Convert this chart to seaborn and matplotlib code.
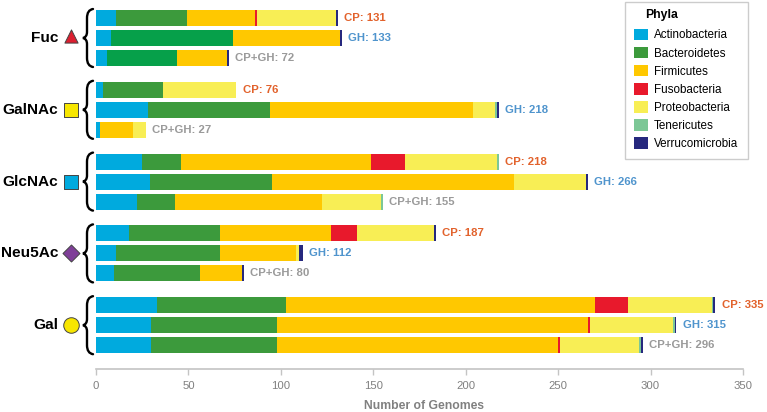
# Stacked bars of genome counts per phylum for each sugar
import numpy as np
import pandas as pd
import matplotlib
matplotlib.use('Agg')
import matplotlib.pyplot as plt
from matplotlib.patches import Patch, PathPatch
from matplotlib.path import Path
import seaborn as sns

sugars = ['Fuc', 'GalNAc', 'GlcNAc', 'Neu5Ac', 'Gal']
pathways = ['CP', 'GH', 'CP+GH']
phyla = ['Actinobacteria', 'Bacteroidetes', 'Firmicutes', 'Fusobacteria',
         'Proteobacteria', 'Tenericutes', 'Verrucomicrobia']
colors = ['#00AADE', '#3C9A3C', '#FFC800', '#E8192C', '#F8EE55', '#7CC796', '#26287E']

actino = [11, 8, 6, 4, 28, 2, 25, 29, 22, 18, 11, 10, 33, 30, 30]
bactero = [38, 66, 38, 32, 66, 0, 21, 66, 21, 49, 56, 46, 70, 68, 68]
firmi = [37, 58, 27, 0, 110, 18, 103, 131, 79, 60, 41, 23, 167, 168, 152]
fuso = [1, 0, 0, 0, 0, 0, 18, 0, 0, 14, 0, 0, 18, 1, 1]
proteo = [43, 0, 0, 40, 12, 7, 50, 39, 32, 42, 2, 0, 45, 45, 43]
teneri = [0, 0, 0, 0, 1, 0, 1, 0, 1, 0, 0, 0, 1, 1, 1]
verruco = [1, 1, 1, 0, 1, 0, 0, 1, 0, 1, 2, 1, 1, 1, 1]
totals = [131, 133, 72, 76, 218, 27, 218, 266, 155, 187, 112, 80, 335, 315, 296]

label_colors = {'CP': '#E2622C', 'GH': '#4F94CD', 'CP+GH': '#9A9A9A'}
group_markers = ['^', 's', 's', 'D', 'o']
marker_colors = ['#DC1F30', '#F7E600', '#00AADE', '#7F3F98', '#F7E600']
marker_sizes = [90, 105, 105, 75, 125]

plt.rcParams['font.family'] = ['Liberation Sans', 'DejaVu Sans']

W, H = 767, 412
fig = plt.figure(figsize=(W / 100, H / 100), dpi=100)
ax = fig.add_axes([96 / W, 1 - 369 / H, 647 / W, 369 / H])

# one row per bar, rows are 20 px apart
rows = np.arange(15) % 3 + np.repeat(np.arange(5), 3) * 3.59
df = pd.DataFrame(dict(zip(phyla, [actino, bactero, firmi, fuso, proteo, teneri, verruco])))
cum = df[phyla].cumsum(axis=1)
cum['row'] = rows

# tallest cumulative first, so each shorter stack sits on top
for name, color in reversed(list(zip(phyla, colors))):
    sns.barplot(data=cum, x=name, y='row', orient='y', native_scale=True,
                color=color, saturation=1, width=0.8, ax=ax, linewidth=0)
    if name == 'Bacteroidetes':
        # the two lower Fuc bars are a brighter green in the original
        sns.barplot(data=cum.iloc[[1, 2]], x=name, y='row', orient='y', native_scale=True,
                    color='#06A04A', saturation=1, width=0.8, ax=ax, linewidth=0)

ax.set_xlim(0, 350)
ax.set_ylim((369 - 18) / 20, -18 / 20)
ax.set_yticks([])
ax.set_ylabel('')
sns.despine(ax=ax, left=True)
ax.spines['bottom'].set_color('#C4C4C4')
ax.spines['bottom'].set_linewidth(1.2)
ax.set_xticks(range(0, 351, 50))
ax.tick_params(axis='x', length=4.5, width=1, color='#C4C4C4', labelcolor='#808080',
               labelsize=8.2, pad=4.2)
ax.set_xlabel('Number of Genomes', fontsize=8.7, fontweight='bold', color='#808080', labelpad=6.5)
ax.xaxis.label.set_x((423.5 - 96) / 647)

# total labels at the end of each bar
for i in range(15):
    path = pathways[i % 3]
    end = cum[phyla].iloc[i].max()
    ax.text(end + 3.4, rows[i], f'{path}: {totals[i]}', color=label_colors[path],
            fontsize=8.2, fontweight='bold', va='center', ha='left')


def brace(yc):
    # curly brace, 58 px tall, drawn in pixel offsets from its middle
    px = lambda x, y: ((x - 96) / 647 * 350, yc + y / 20)
    outer = [(9, -29), (3, -28), (3, -20), (3, -12), (3, -6), (3, -1), (-1, 0),
             (3, 1), (3, 6), (3, 12), (3, 20), (3, 28), (9, 29)]
    pts = [px(85 + x - 1, y) for x, y in outer]
    codes = [Path.MOVETO] + [Path.CURVE3] * 12
    ax.add_patch(PathPatch(Path(pts, codes), fc='none', ec='black', lw=1.7,
                           clip_on=False, capstyle='round'))


for g, sugar in enumerate(sugars):
    yc = rows[g * 3 + 1]
    ax.text(-37.5 / 1.849, yc, sugar, fontsize=11.1, fontweight='bold', color='black',
            ha='right', va='center', clip_on=False)
    # triangle marker sits low on its centre, lift it a little
    lift = 0.1 if group_markers[g] == '^' else 0
    ax.scatter(-25 / 1.849, yc - lift, marker=group_markers[g], s=marker_sizes[g],
               c=marker_colors[g], edgecolors='#444444', linewidths=0.7, clip_on=False, zorder=5)
    brace(yc)

handles = [Patch(facecolor=c, edgecolor='none', label=n) for n, c in zip(phyla, colors)]
leg = ax.legend(handles=handles, title=' ', loc='upper left',
                bbox_to_anchor=(625 / W, 1 - 2 / H), bbox_transform=fig.transFigure,
                fontsize=8.4, frameon=True, fancybox=False, edgecolor='#CCCCCC',
                handlelength=1.2, handleheight=1.15, handletextpad=0.5,
                labelspacing=0.46, borderpad=0.8, borderaxespad=0)
leg.get_frame().set_linewidth(1.0)
leg.get_frame().set_alpha(1)
leg.get_title().set_fontsize(8.8)
fig.text(645 / W, 1 - 15 / H, 'Phyla', fontsize=8.8, fontweight='bold', color='black',
         ha='left', va='center', zorder=10)

fig.savefig('out.png', dpi=100)
